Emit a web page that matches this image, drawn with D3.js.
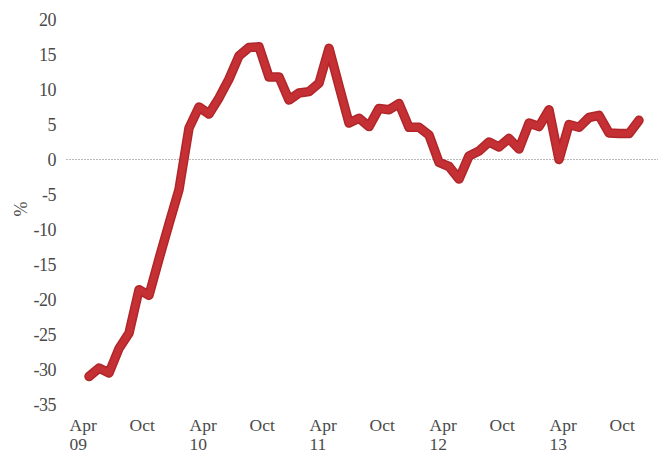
<!DOCTYPE html>
<html>
<head>
<meta charset="utf-8">
<script src="https://cdn.jsdelivr.net/npm/d3@7"></script>
<style>
  html, body { margin: 0; padding: 0; background: #ffffff; }
  svg { display: block; }
  text { font-family: "Liberation Serif", "DejaVu Serif", serif; fill: #4a4a4a; }
</style>
</head>
<body>
<svg id="chart" width="664" height="454"></svg>
<script>
// Monthly values, Apr 2009 .. Nov 2013 (%)
const startMonth = "2009-04";
const values = [
  -31, -29.8, -30.5, -27, -24.8, -18.6, -19.4, -14.2, -9.2, -4.3,
  4.5, 7.5, 6.5, 8.8, 11.5, 14.8, 16.0, 16.1, 11.8, 11.8,
  8.5, 9.5, 9.7, 10.9, 15.9, 10.5, 5.2, 5.9, 4.7, 7.3,
  7.1, 8.0, 4.6, 4.6, 3.5, -0.4, -1.0, -2.8, 0.5, 1.2,
  2.5, 1.8, 3.0, 1.5, 5.2, 4.7, 7.1, 0.0, 5.0, 4.6,
  6.0, 6.3, 3.8, 3.7, 3.7, 5.6
];
const yTicks = [20, 15, 10, 5, 0, -5, -10, -15, -20, -25, -30, -35];
const xTickIdx = [0, 6, 12, 18, 24, 30, 36, 42, 48, 54];
const xTickMonth = ["Apr", "Oct", "Apr", "Oct", "Apr", "Oct", "Apr", "Oct", "Apr", "Oct"];
const xTickYear = ["09", "", "10", "", "11", "", "12", "", "13", ""];
const yUnit = "%";

const svg = d3.select("#chart");

const x = d3.scaleLinear().domain([0, values.length - 1]).range([89, 639]);
const y = d3.scaleLinear().domain([-35, 20]).range([404.5, 19.5]);

// zero line
svg.append("line")
  .attr("x1", 66).attr("x2", 658)
  .attr("y1", y(0)).attr("y2", y(0))
  .attr("stroke", "#b9b9b9").attr("stroke-width", 1)
  .attr("stroke-dasharray", "2,1");

// y axis
const yAxis = d3.axisLeft(y).tickValues(yTicks).tickSize(0).tickPadding(0)
  .tickFormat(d => d3.format("d")(d).replace("−", "-"));
const gy = svg.append("g").attr("transform", "translate(56,0)").call(yAxis);
gy.select(".domain").remove();
gy.selectAll("text")
  .attr("font-size", 18).attr("fill", "#4a4a4a")
  .attr("font-family", "Liberation Serif, serif")
  .attr("letter-spacing", "-0.5px");

// y unit
svg.append("text")
  .attr("transform", "translate(27,209) rotate(-90)")
  .attr("text-anchor", "middle")
  .attr("font-size", 18)
  .text(yUnit);

// x axis
const xAxis = d3.axisBottom(x).tickValues(xTickIdx).tickSize(0).tickFormat("");
const gx = svg.append("g").call(xAxis);
gx.select(".domain").remove();
gx.selectAll(".tick").each(function(d, i) {
  const g = d3.select(this);
  g.append("text")
    .attr("x", -20).attr("y", 431)
    .attr("text-anchor", "start")
    .attr("font-size", 17.5)
    .attr("fill", "#4a4a4a")
    .text(xTickMonth[i]);
  if (xTickYear[i]) {
    g.append("text")
      .attr("x", -20).attr("y", 450)
      .attr("text-anchor", "start")
      .attr("font-size", 17.5)
      .attr("fill", "#4a4a4a")
      .text(xTickYear[i]);
  }
});

// line
const line = d3.line().x((d, i) => x(i)).y(d => y(d));
svg.append("path")
  .datum(values)
  .attr("d", line)
  .attr("fill", "none")
  .attr("stroke", "#b02629")
  .attr("stroke-width", 9.5)
  .attr("stroke-linejoin", "round")
  .attr("stroke-linecap", "round");
svg.append("path")
  .datum(values)
  .attr("d", line)
  .attr("fill", "none")
  .attr("stroke", "#c53034")
  .attr("stroke-width", 6.5)
  .attr("stroke-linejoin", "round")
  .attr("stroke-linecap", "round");
</script>
</body>
</html>
